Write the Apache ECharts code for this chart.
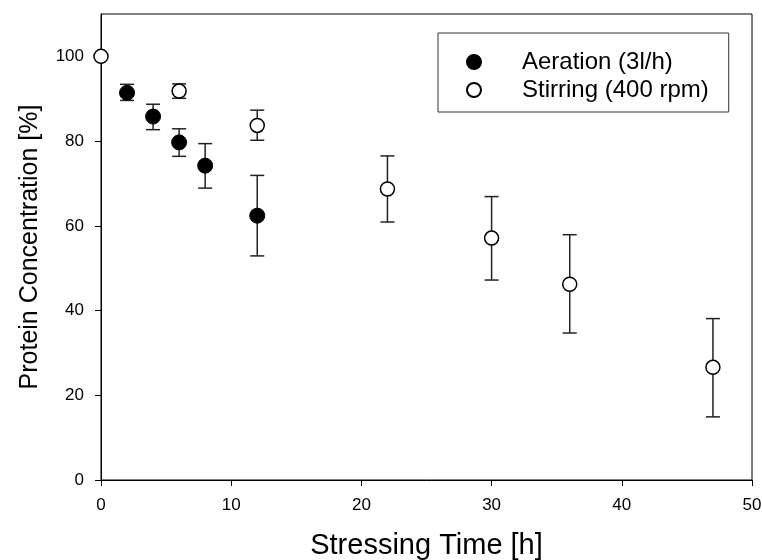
<!DOCTYPE html>
<html>
<head>
<meta charset="utf-8">
<script src="https://cdn.jsdelivr.net/npm/echarts@6/dist/echarts.min.js"></script>
<style>
  html, body { margin: 0; padding: 0; background: #fff; }
  #chart { width: 762px; height: 560px; }
</style>
</head>
<body>
<div id="chart"></div>
<script>
// Aeration (3l/h)
const aerTime = [2, 4, 6, 8, 12];
const aerMean = [91.4, 85.8, 79.7, 74.2, 62.4];
const aerLow = [89.6, 82.7, 76.4, 68.9, 52.9];
const aerHigh = [93.4, 88.7, 82.9, 79.4, 71.9];

// Stirring (400 rpm)
const stirTime = [0, 6, 12, 22, 30, 36, 47];
const stirMean = [100, 91.8, 83.7, 68.7, 57.1, 46.2, 26.6];
const stirLow = [100, 90.1, 80.2, 60.9, 47.2, 34.7, 14.9];
const stirHigh = [100, 93.5, 87.3, 76.5, 66.9, 57.9, 38.1];

const yTicks = [0, 20, 40, 60, 80, 100];
const xTicks = [0, 10, 20, 30, 40, 50];

const FONT = "Liberation Sans";

function pairs(xs, ys) {
  return xs.map((x, i) => [x, ys[i]]);
}
function errData(xs, lo, hi) {
  return xs.map((x, i) => [x, lo[i], hi[i]]);
}

// error bar: vertical line with caps
function renderErr(params, api) {
  const x = api.value(0);
  const lo = api.value(1);
  const hi = api.value(2);
  if (lo === hi) return null;
  const p1 = api.coord([x, hi]);
  const p2 = api.coord([x, lo]);
  const w = 7;
  const style = { stroke: "#222", lineWidth: 1.5 };
  return {
    type: "group",
    children: [
      { type: "line", shape: { x1: p1[0], y1: p1[1], x2: p2[0], y2: p2[1] }, style: style },
      { type: "line", shape: { x1: p1[0] - w, y1: p1[1], x2: p1[0] + w, y2: p1[1] }, style: style },
      { type: "line", shape: { x1: p2[0] - w, y1: p2[1], x2: p2[0] + w, y2: p2[1] }, style: style }
    ]
  };
}

const chart = echarts.init(document.getElementById("chart"));
chart.setOption({
  animation: false,
  backgroundColor: "#fff",
  textStyle: { fontFamily: FONT },
  grid: {
    left: 101, right: 10, top: 14, bottom: 80,
    outerBoundsMode: "none", containLabel: false,
    show: true, borderColor: "#000", borderWidth: 1
  },
  legend: {
    left: 438, top: 33,
    orient: "vertical",
    data: ["Aeration (3l/h)", "Stirring (400 rpm)"],
    itemWidth: 14, itemHeight: 14, itemGap: 4,
    padding: [17, 20, 10, 28],
    borderColor: "#333", borderWidth: 1,
    textStyle: { fontSize: 24, color: "#000", fontFamily: FONT, padding: [0, 0, 0, 36] }
  },
  xAxis: {
    type: "value", min: 0, max: 50, interval: 10,
    name: "Stressing Time [h]", nameLocation: "middle", nameGap: 51,
    nameTextStyle: { fontSize: 29, color: "#000", fontFamily: FONT },
    axisLine: { show: true, lineStyle: { color: "#000", width: 1 } },
    axisTick: { show: true, inside: false, length: 6, lineStyle: { color: "#000" }, customValues: xTicks },
    axisLabel: { fontSize: 17, color: "#000", margin: 17, customValues: xTicks },
    splitLine: { show: false }
  },
  yAxis: {
    type: "value", min: 0, max: 110, interval: 20,
    name: "Protein Concentration [%]", nameLocation: "middle", nameGap: 58,
    nameTextStyle: { fontSize: 25, color: "#000", fontFamily: FONT },
    axisLine: { show: true, lineStyle: { color: "#000", width: 1 } },
    axisTick: { show: true, inside: false, length: 6, lineStyle: { color: "#000" }, customValues: yTicks },
    axisLabel: { fontSize: 17, color: "#000", margin: 17, customValues: yTicks },
    splitLine: { show: false }
  },
  series: [
    {
      type: "custom", name: "aerErr", renderItem: renderErr,
      encode: { x: 0, y: [1, 2] }, data: errData(aerTime, aerLow, aerHigh), z: 1
    },
    {
      type: "custom", name: "stirErr", renderItem: renderErr,
      encode: { x: 0, y: [1, 2] }, data: errData(stirTime, stirLow, stirHigh), z: 1
    },
    {
      type: "scatter", name: "Aeration (3l/h)", symbol: "circle", symbolSize: 15,
      itemStyle: { color: "#000", borderColor: "#000", borderWidth: 1, opacity: 1 },
      data: pairs(aerTime, aerMean), z: 3
    },
    {
      type: "scatter", name: "Stirring (400 rpm)", symbol: "circle", symbolSize: 14,
      itemStyle: { color: "#fff", borderColor: "#000", borderWidth: 1.5, opacity: 1 },
      data: pairs(stirTime, stirMean), z: 3
    }
  ]
});
</script>
</body>
</html>
